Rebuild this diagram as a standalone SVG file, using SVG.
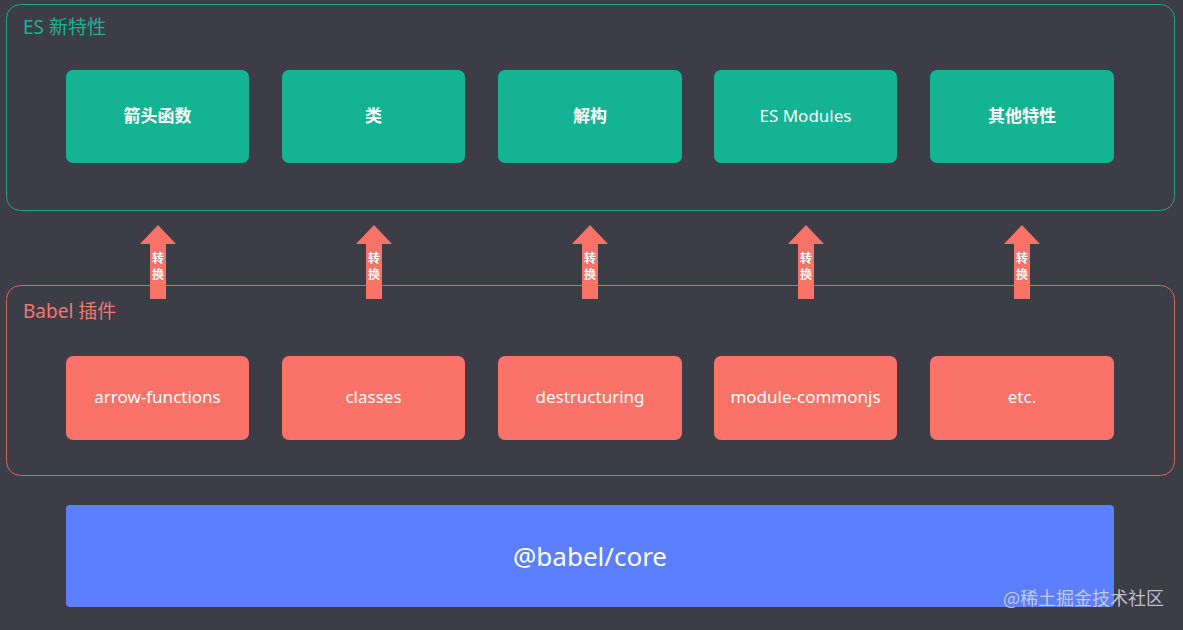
<svg xmlns="http://www.w3.org/2000/svg" width="1183" height="630" viewBox="0 0 1183 630">
<style>
.grp{fill:none;stroke-width:1}
.g{fill:#13b394}
.r{fill:#fa7268}
.t{font-family:"Noto Sans","Noto Sans CJK SC",sans-serif;fill:#ffffff;text-anchor:middle;font-size:17px}
.tb{font-weight:bold}
.big{font-size:26px}
.lbl{font-family:"Noto Sans","Noto Sans CJK SC",sans-serif;font-size:19px}
.arr{fill:#fa7268}
.at{font-family:"Noto Sans CJK SC",sans-serif;fill:#ffffff;text-anchor:middle;font-size:12px;font-weight:bold}
</style>
<rect width="1183" height="630" fill="#3d3d48"/>
<g id="es-features">
<rect class="grp" x="6.5" y="4.5" width="1168" height="206" rx="14" stroke="#1aa88a"/>
<text class="lbl" x="23" y="34" fill="#19b394">ES 新特性</text>
</g>
<g id="babel-plugins">
<rect class="grp" x="6.5" y="285.5" width="1168" height="190" rx="14" stroke="#d9675d"/>
<text class="lbl" x="23" y="318" fill="#f0786c">Babel 插件</text>
</g>
<g id="n-arrow-fn"><rect class="g" x="66" y="70" width="183" height="93" rx="7"/><text class="t tb" x="157.5" y="122">箭头函数</text></g>
<g id="n-class"><rect class="g" x="282" y="70" width="183" height="93" rx="7"/><text class="t tb" x="373.5" y="122">类</text></g>
<g id="n-destruct"><rect class="g" x="498" y="70" width="184" height="93" rx="7"/><text class="t tb" x="590" y="122">解构</text></g>
<g id="n-esm"><rect class="g" x="714" y="70" width="183" height="93" rx="7"/><text class="t" x="805.5" y="122">ES Modules</text></g>
<g id="n-other"><rect class="g" x="930" y="70" width="184" height="93" rx="7"/><text class="t tb" x="1022" y="122">其他特性</text></g>
<g id="p-arrow-fn"><rect class="r" x="66" y="356" width="183" height="84" rx="7"/><text class="t" x="157.5" y="403">arrow-functions</text></g>
<g id="p-classes"><rect class="r" x="282" y="356" width="183" height="84" rx="7"/><text class="t" x="373.5" y="403">classes</text></g>
<g id="p-destruct"><rect class="r" x="498" y="356" width="184" height="84" rx="7"/><text class="t" x="590" y="403">destructuring</text></g>
<g id="p-module"><rect class="r" x="714" y="356" width="183" height="84" rx="7"/><text class="t" x="805.5" y="403">module-commonjs</text></g>
<g id="p-etc"><rect class="r" x="930" y="356" width="184" height="84" rx="7"/><text class="t" x="1022" y="403">etc.</text></g>
<g id="core"><rect x="66" y="505" width="1048" height="102" rx="4" fill="#5b7ffe"/><text class="t big" x="590" y="566">@babel/core</text></g>
<g id="connectors">
<g transform="translate(158 0)"><path class="arr" d="M0 225 L18 244 L8 244 L8 299 L-8 299 L-8 244 L-18 244 Z"/><text class="at" x="0" y="263">转</text><text class="at" x="0" y="279">换</text></g>
<g transform="translate(374 0)"><path class="arr" d="M0 225 L18 244 L8 244 L8 299 L-8 299 L-8 244 L-18 244 Z"/><text class="at" x="0" y="263">转</text><text class="at" x="0" y="279">换</text></g>
<g transform="translate(590 0)"><path class="arr" d="M0 225 L18 244 L8 244 L8 299 L-8 299 L-8 244 L-18 244 Z"/><text class="at" x="0" y="263">转</text><text class="at" x="0" y="279">换</text></g>
<g transform="translate(806 0)"><path class="arr" d="M0 225 L18 244 L8 244 L8 299 L-8 299 L-8 244 L-18 244 Z"/><text class="at" x="0" y="263">转</text><text class="at" x="0" y="279">换</text></g>
<g transform="translate(1022 0)"><path class="arr" d="M0 225 L18 244 L8 244 L8 299 L-8 299 L-8 244 L-18 244 Z"/><text class="at" x="0" y="263">转</text><text class="at" x="0" y="279">换</text></g>
</g>
<text x="1003" y="605" font-family="Noto Sans CJK SC,sans-serif" font-size="18" fill="#d8d8e0" fill-opacity="0.85">@稀土掘金技术社区</text>
</svg>
